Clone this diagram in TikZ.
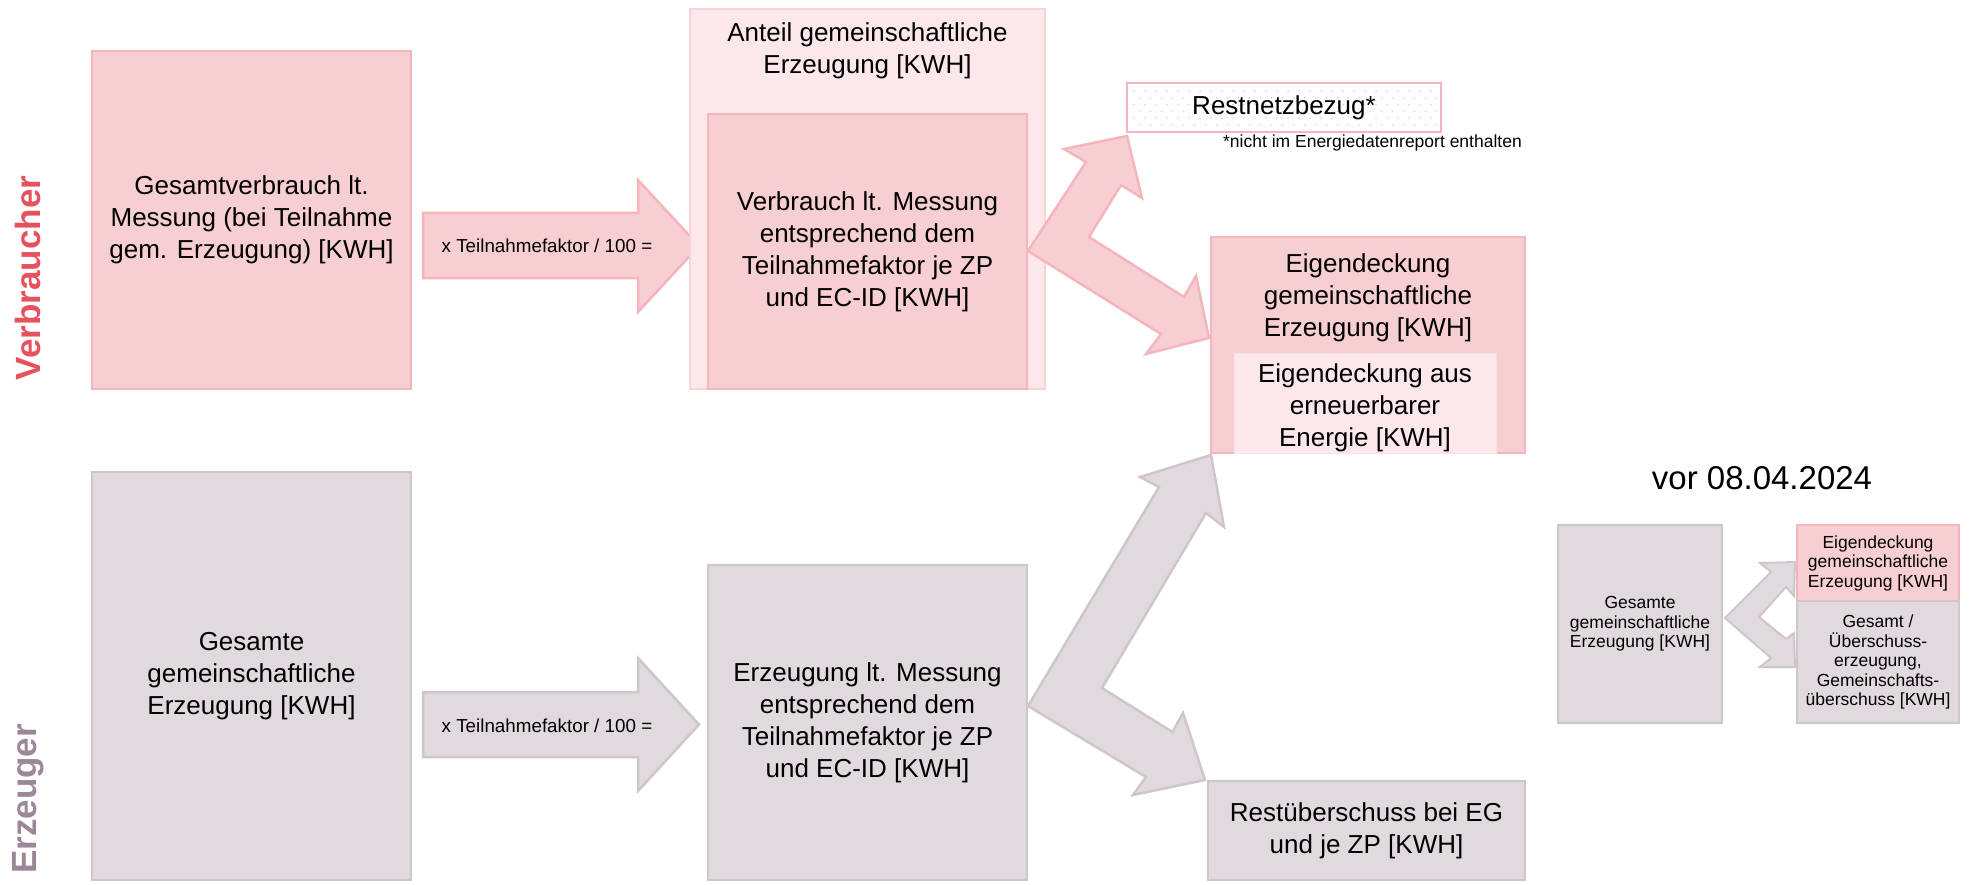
\documentclass[tikz,border=0pt]{standalone}
\usepackage{fontspec}
\setmainfont{Liberation Sans}
\definecolor{pinkfill}{HTML}{F7CED2}
\definecolor{pinkline}{HTML}{F4B6BC}
\definecolor{lightfill}{HTML}{FCE8EA}
\definecolor{lightline}{HTML}{F8D4D8}
\definecolor{grayfill}{HTML}{E0DADF}
\definecolor{grayline}{HTML}{CFC6CD}
\definecolor{verbred}{HTML}{E5525E}
\definecolor{erzgray}{HTML}{9B8798}
\definecolor{dotpink}{HTML}{F8CDD1}
\begin{document}
\begin{tikzpicture}[x=1pt,y=-1pt,
  base/.style={rectangle, inner sep=0pt, outer sep=0pt, line width=2.5pt, align=center,
    font=\fontsize{26}{32}\selectfont},
  pinkbox/.style={base, fill=pinkfill, draw=pinkline},
  lightbox/.style={base, fill=lightfill, draw=lightline},
  graybox/.style={base, fill=grayfill, draw=grayline},
  smallbox/.style={font=\fontsize{17.5}{19.5}\selectfont},
  pinkarrow/.style={fill=pinkfill, draw=pinkline, line width=2.5pt, line join=miter},
  grayarrow/.style={fill=grayfill, draw=grayline, line width=2.5pt, line join=miter},
  txt/.style={inner sep=0pt, align=center, font=\fontsize{26}{32}\selectfont},
  arrtxt/.style={inner sep=0pt, font=\fontsize{18.8}{22}\selectfont},
  lane/.style={rotate=90, inner sep=0pt, font=\bfseries\fontsize{35}{40}\selectfont}
]
\useasboundingbox (0,0) rectangle (1969,885);

% lane labels
\node[lane, text=verbred] (vlab) at (28,278) {Verbraucher};
\node[lane, text=erzgray] (elab) at (28,799) {Erzeuger};

% consumer row
\node[pinkbox, minimum width=319pt, minimum height=338pt] (A) at (251.5,220)
  {Gesamtverbrauch lt.\\Messung (bei Teilnahme\\gem. Erzeugung) [KWH]};
\draw[pinkarrow] (423,213) coordinate (a1s) -- (638,213) -- (638,180) -- (699,246) coordinate (a1t)
  -- (638,312) -- (638,278) -- (423,278) -- cycle;
\node[arrtxt] (a1txt) at (547,246) {x Teilnahmefaktor / 100 =};
\node[lightbox, minimum width=355pt, minimum height=380pt] (C) at (867.5,199) {};
\node[txt] (Ctxt) at (867.5,51) {Anteil gemeinschaftliche\\Erzeugung [KWH]};
\node[pinkbox, minimum width=319pt, minimum height=275pt] (D) at (867.5,251.5)
  {Verbrauch lt. Messung\\entsprechend dem\\Teilnahmefaktor je ZP\\und EC-ID [KWH]};

% Restnetzbezug
\node[base, fill=white, draw=pinkline, minimum width=314pt, minimum height=49pt] (R) at (1284,107.5) {};
\begin{scope}
  \clip (1130,86) rectangle (1438,129);
  \foreach \r in {0,...,6} {
    \foreach \c in {0,...,29} {
      \fill[dotpink] ({1134+11*\c+5.5*mod(\r,2)},{91+6.8*\r}) circle (1.0);
    }
  }
\end{scope}
\node[txt] (Rtxt) at (1284,108) {Restnetzbezug*};
\node[inner sep=0pt, anchor=east, font=\fontsize{17.5}{20}\selectfont] (note) at (1522,143)
  {*nicht im Energiedatenreport enthalten};

% Eigendeckung
\node[pinkbox, minimum width=314pt, minimum height=216pt] (E) at (1368,345) {};
\node[txt] (Etxt) at (1368,298) {Eigendeckung\\gemeinschaftliche\\Erzeugung [KWH]};
\node[base, fill=lightfill, draw=lightfill!70!pinkfill, line width=1pt, minimum width=262pt, minimum height=100pt] (F) at (1365,403) {};
\node[txt] (Ftxt) at (1365,408) {Eigendeckung aus\\erneuerbarer\\Energie [KWH]};

% pink bent arrow
\draw[pinkarrow] (1028,251) -- (1086,162) -- (1064,149) -- (1127,136) -- (1142,198) -- (1121,185)
  -- (1089,237) -- (1184,297) -- (1196,276) -- (1209,338) -- (1146,354) -- (1161,334) -- cycle;

% producer row
\node[graybox, minimum width=319pt, minimum height=408pt] (G) at (251.5,676)
  {Gesamte\\gemeinschaftliche\\Erzeugung [KWH]};
\draw[grayarrow] (423,692) -- (638,692) -- (638,658) -- (699,724.5) -- (638,791) -- (638,757) -- (423,757) -- cycle;
\node[arrtxt] (a2txt) at (547,726) {x Teilnahmefaktor / 100 =};
\node[graybox, minimum width=319pt, minimum height=315pt] (H) at (867.5,722.5)
  {Erzeugung lt. Messung\\entsprechend dem\\Teilnahmefaktor je ZP\\und EC-ID [KWH]};
\node[graybox, minimum width=317pt, minimum height=99pt] (I) at (1366.5,830.5)
  {Restüberschuss bei EG\\und je ZP [KWH]};

% gray bent arrow
\draw[grayarrow] (1028,706) -- (1159,487) -- (1140,477) -- (1211,455) -- (1224,527) -- (1206,513)
  -- (1102,688) -- (1172.5,732) -- (1183,713) -- (1205,780) -- (1133,795) -- (1146,777) -- cycle;

% before 08.04.2024
\node[inner sep=0pt, font=\fontsize{33}{36}\selectfont] (vor) at (1762,478) {vor 08.04.2024};
\node[graybox, smallbox, minimum width=164pt, minimum height=198pt] (J) at (1640,624)
  {Gesamte\\gemeinschaftliche\\Erzeugung [KWH]};
\node[pinkbox, smallbox, minimum width=162pt, minimum height=76pt] (K) at (1878,563)
  {Eigendeckung\\gemeinschaftliche\\Erzeugung [KWH]};
\node[graybox, smallbox, minimum width=162pt, minimum height=122pt] (L) at (1878,662)
  {Gesamt /\\Überschuss-\\erzeugung,\\Gemeinschafts-\\überschuss [KWH]};
\draw[grayarrow, line width=2pt] (1725,618) -- (1771,572) -- (1760,563) -- (1795,562) -- (1794,596) -- (1786,587)
  -- (1759,617) -- (1786,639) -- (1794,633) -- (1795,667) -- (1760,667) -- (1771,658) -- cycle;
\end{tikzpicture}
\end{document}
